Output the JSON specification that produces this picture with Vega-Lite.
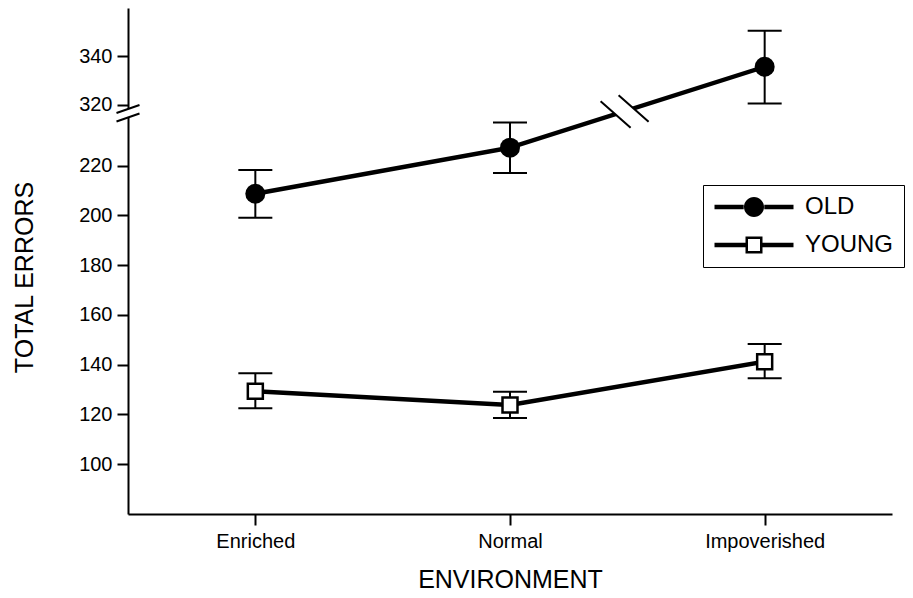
{
  "$schema": "https://vega.github.io/schema/vega-lite/v6.json",
  "width": 764,
  "height": 506,
  "autosize": "none",
  "padding": {"left": 128, "top": 8, "right": 21, "bottom": 84},
  "background": "white",
  "datasets": {
    "errors": [
      {"environment": "Enriched", "group": "OLD", "mean": 208.7, "lo": 199.0, "hi": 218.2},
      {"environment": "Normal", "group": "OLD", "mean": 227.2, "lo": 217.0, "hi": 237.3},
      {"environment": "Impoverished", "group": "OLD", "mean": 335.7, "lo": 320.5, "hi": 350.6},
      {"environment": "Enriched", "group": "YOUNG", "mean": 129.3, "lo": 122.5, "hi": 136.6},
      {"environment": "Normal", "group": "YOUNG", "mean": 123.8, "lo": 118.6, "hi": 129.1},
      {"environment": "Impoverished", "group": "YOUNG", "mean": 141.2, "lo": 134.5, "hi": 148.3}
    ],
    "breaks": [
      {"part": "axis", "at": 0.5, "value": 285},
      {"part": "line", "at": 2.45, "value": 300.7}
    ]
  },
  "config": {
    "view": {"stroke": null},
    "font": "Liberation Sans",
    "axis": {
      "domainColor": "black",
      "domainWidth": 2,
      "tickColor": "black",
      "tickWidth": 2,
      "tickSize": 11,
      "labelColor": "black",
      "labelFontSize": 20,
      "titleColor": "black",
      "titleFontSize": 25,
      "titleFontWeight": "normal",
      "grid": false
    },
    "legend": {
      "labelColor": "black",
      "labelFontSize": 24
    }
  },
  "layer": [
    {
      "data": {"name": "errors"},
      "encoding": {
        "x": {
          "field": "environment",
          "type": "nominal",
          "sort": ["Enriched", "Normal", "Impoverished"],
          "scale": {"type": "point", "padding": 0.5},
          "title": "ENVIRONMENT",
          "axis": {"labelAngle": 0, "labelPadding": 6, "titlePadding": 16}
        }
      },
      "layer": [
        {
          "mark": {"type": "line", "color": "black", "strokeWidth": 4.5},
          "encoding": {
            "y": {
              "field": "mean",
              "type": "quantitative",
              "title": "TOTAL ERRORS",
              "scale": {"domain": [89.8, 239, 318, 357.5], "range": [506, 110.3, 101.6, 0]},
              "axis": {
                "values": [100, 120, 140, 160, 180, 200, 220, 320, 340],
                "labelPadding": 5,
                "titleX": -104,
                "titleY": 269,
                "titleAngle": -90,
                "titleAlign": "center",
                "titleBaseline": "middle"
              }
            },
            "detail": {"field": "group"}
          }
        },
        {
          "mark": {"type": "rule", "color": "black", "strokeWidth": 2},
          "encoding": {
            "y": {"field": "lo", "type": "quantitative", "title": "TOTAL ERRORS"},
            "y2": {"field": "hi"}
          }
        },
        {
          "mark": {"type": "tick", "color": "black", "orient": "horizontal", "size": 34, "thickness": 2, "opacity": 1},
          "encoding": {
            "y": {"field": "lo", "type": "quantitative", "title": "TOTAL ERRORS"}
          }
        },
        {
          "mark": {"type": "tick", "color": "black", "orient": "horizontal", "size": 34, "thickness": 2, "opacity": 1},
          "encoding": {
            "y": {"field": "hi", "type": "quantitative", "title": "TOTAL ERRORS"}
          }
        },
        {
          "mark": {"type": "point", "stroke": "black", "opacity": 1},
          "encoding": {
            "y": {"field": "mean", "type": "quantitative", "title": "TOTAL ERRORS"},
            "shape": {"condition": {"test": "datum.group === 'YOUNG'", "value": "square"}, "value": "circle"},
            "fill": {"condition": {"test": "datum.group === 'YOUNG'", "value": "white"}, "value": "black"},
            "size": {"condition": {"test": "datum.group === 'YOUNG'", "value": 225}, "value": 400},
            "strokeWidth": {"condition": {"test": "datum.group === 'YOUNG'", "value": 2.5}, "value": 0}
          }
        },
        {
          "transform": [{"filter": "false"}],
          "mark": {"type": "point", "filled": true, "color": "black", "opacity": 1, "strokeWidth": 0},
          "encoding": {
            "y": {"field": "mean", "type": "quantitative", "title": "TOTAL ERRORS"},
            "shape": {
              "field": "group",
              "type": "nominal",
              "scale": {
                "domain": ["OLD", "YOUNG"],
                "range": [
                  "M-3.95,-0.22H-1.03V0.22H-3.95Z M1.03,-0.22H3.95V0.22H1.03Z M-1,0A1,1,0,1,1,1,0A1,1,0,1,1,-1,0Z",
                  "M-3.95,-0.22H-0.85V0.22H-3.95Z M0.85,-0.22H3.95V0.22H0.85Z M-0.85,-0.85H0.85V0.85H-0.85Z M-0.6,-0.6V0.6H0.6V-0.6Z"
                ]
              },
              "legend": {
                "title": null,
                "orient": "none",
                "legendX": 575,
                "legendY": 177,
                "strokeColor": "black",
                "fillColor": "white",
                "padding": 10,
                "symbolSize": 400,
                "symbolOffset": 29,
                "symbolStrokeWidth": 0,
                "symbolFillColor": "black",
                "symbolOpacity": 1,
                "labelOffset": 39,
                "rowPadding": 14
              }
            }
          }
        }
      ]
    },
    {
      "data": {"name": "breaks"},
      "encoding": {
        "x": {"field": "at", "type": "quantitative", "scale": {"domain": [0.5, 3.5]}, "axis": null},
        "y": {"field": "value", "type": "quantitative", "title": "TOTAL ERRORS"},
        "size": {"condition": {"test": "datum.part === 'axis'", "value": 625}, "value": 1600}
      },
      "layer": [
        {
          "mark": {"type": "point", "filled": true, "color": "white", "opacity": 1, "strokeWidth": 0},
          "encoding": {
            "shape": {"condition": {"test": "datum.part === 'axis'", "value": "M-0.24,-0.256L0.24,-0.424L0.24,0.256L-0.24,0.424Z"}, "value": "M-0.71,-0.0825L0.19,-0.3825L0.71,0.0825L-0.19,0.3825Z"}
          }
        },
        {
          "mark": {"type": "point", "filled": false, "stroke": "black", "opacity": 1, "strokeWidth": 2},
          "encoding": {
            "shape": {"condition": {"test": "datum.part === 'axis'", "value": "M-0.92,-0.02L0.92,-0.66M-0.92,0.66L0.92,0.02"}, "value": "M-1.2,-0.5175L0.3,0.8175M-0.3,-0.8175L1.2,0.5175"}
          }
        }
      ]
    }
  ],
  "resolve": {"scale": {"x": "independent"}}
}
